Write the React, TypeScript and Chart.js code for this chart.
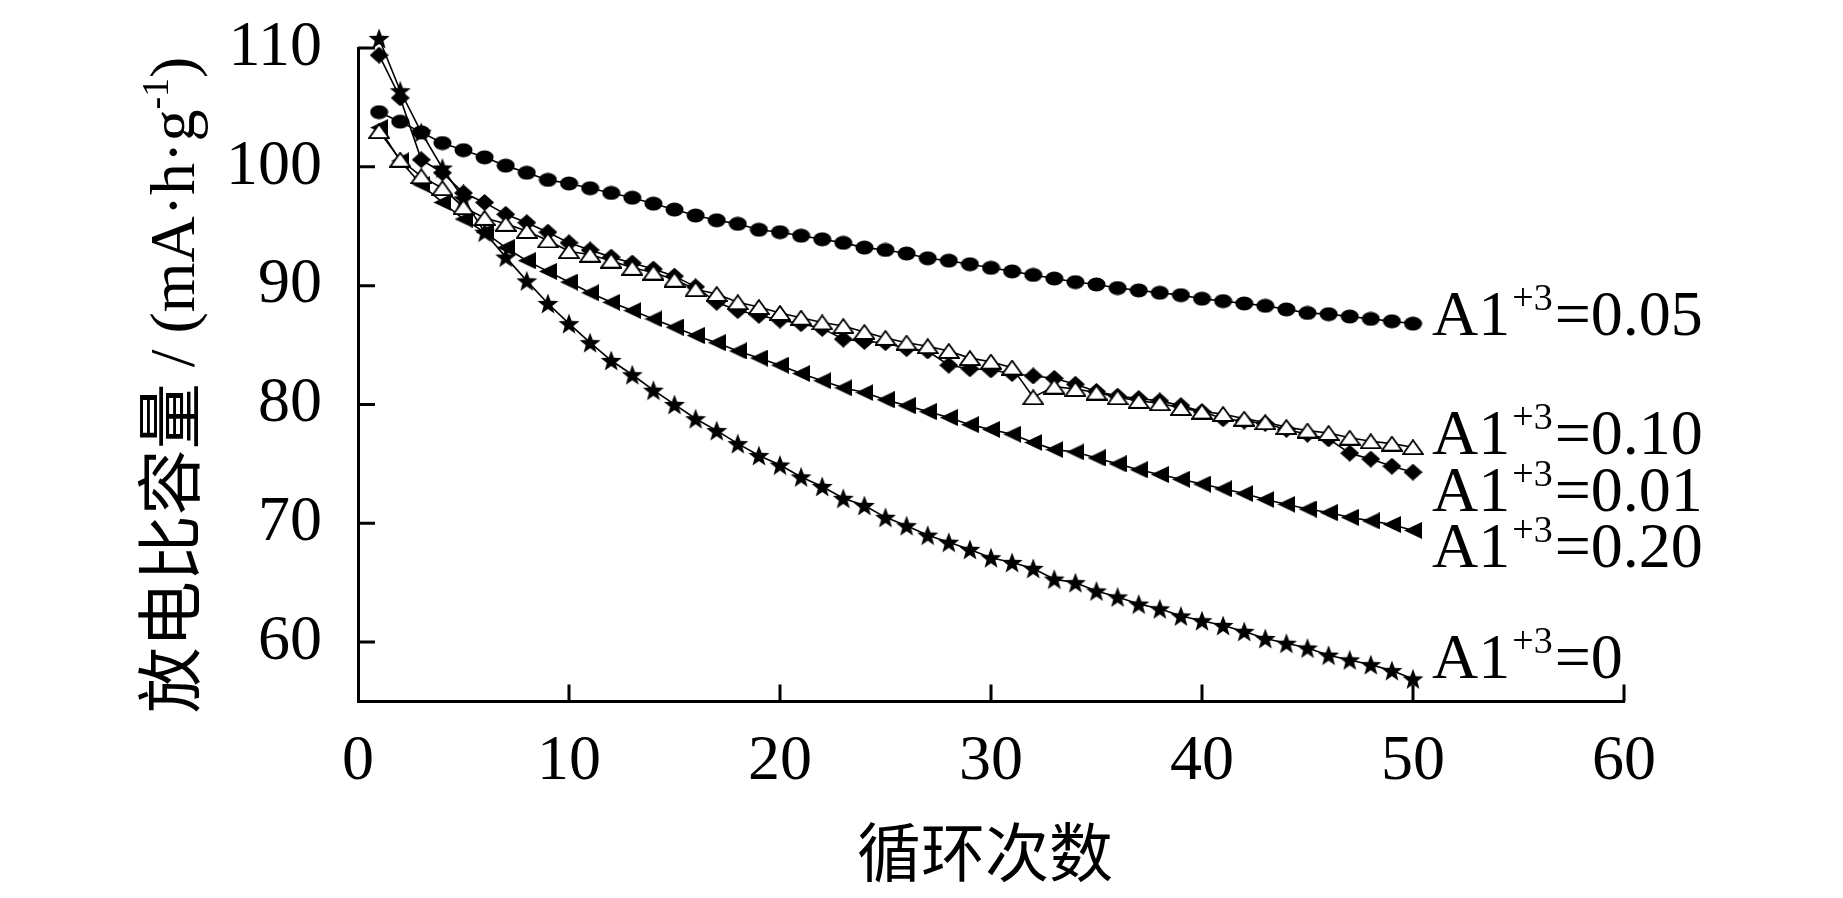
import { useEffect, useRef } from "react";
import { Chart, registerables, Plugin } from "chart.js";

Chart.register(...registerables);

// cycle numbers on the x axis
const cycles = [
  1, 2, 3, 4, 5, 6, 7, 8, 9, 10, 11, 12, 13, 14, 15, 16, 17, 18, 19, 20, 21, 22, 23, 24, 25,
  26, 27, 28, 29, 30, 31, 32, 33, 34, 35, 36, 37, 38, 39, 40, 41, 42, 43, 44, 45, 46, 47, 48, 49, 50,
];

// discharge capacity (mA·h·g-1) per Al3+ content
const al0 = [
  110.8, 106.4, 102.9, 99.9, 97.3, 94.5, 92.4, 90.4, 88.5, 86.8, 85.2, 83.7, 82.5, 81.2, 80.0, 78.8,
  77.8, 76.7, 75.7, 74.9, 73.9, 73.1, 72.1, 71.5, 70.5, 69.8, 69.0, 68.4, 67.8, 67.1, 66.7, 66.2, 65.3,
  65.0, 64.3, 63.8, 63.2, 62.8, 62.2, 61.8, 61.4, 60.9, 60.3, 59.9, 59.5, 58.9, 58.5, 58.1, 57.6, 56.9,
];
const al001 = [
  109.4, 105.8, 100.6, 99.5, 97.8, 97.0, 96.0, 95.3, 94.5, 93.6, 93.0, 92.4, 91.9, 91.4, 90.8, 89.9,
  88.6, 87.9, 87.5, 87.1, 86.8, 86.4, 85.5, 85.3, 85.2, 84.7, 84.5, 83.3, 83.0, 82.9, 82.6, 82.4, 82.2,
  81.7, 81.1, 80.7, 80.5, 80.3, 79.9, 79.4, 78.8, 78.6, 78.4, 77.9, 77.5, 77.1, 75.9, 75.4, 74.8, 74.3,
];
const al005 = [
  104.6, 103.8, 102.9, 102.0, 101.4, 100.8, 100.1, 99.5, 98.9, 98.6, 98.2, 97.8, 97.4, 96.9, 96.4, 95.9,
  95.5, 95.2, 94.7, 94.5, 94.2, 93.9, 93.6, 93.2, 93.0, 92.7, 92.3, 92.1, 91.8, 91.5, 91.2, 90.9, 90.6,
  90.3, 90.1, 89.8, 89.6, 89.4, 89.2, 88.9, 88.7, 88.5, 88.3, 88.0, 87.7, 87.6, 87.4, 87.2, 87.0, 86.8,
];
const al010 = [
  103.0, 100.6, 99.2, 98.2, 96.6, 95.7, 95.2, 94.6, 93.8, 92.9, 92.6, 92.1, 91.5, 91.1, 90.5, 89.7,
  89.3, 88.6, 88.2, 87.7, 87.3, 86.9, 86.6, 86.1, 85.6, 85.2, 84.9, 84.5, 83.9, 83.6, 83.1, 80.6, 81.5,
  81.3, 81.0, 80.6, 80.3, 80.1, 79.7, 79.4, 79.2, 78.8, 78.5, 78.1, 77.8, 77.6, 77.2, 76.9, 76.7, 76.4,
];
const al020 = [
  103.3, 100.5, 98.5, 97.0, 95.6, 94.5, 93.2, 92.1, 91.2, 90.3, 89.4, 88.6, 87.9, 87.2, 86.5, 85.8,
  85.2, 84.5, 83.9, 83.3, 82.6, 82.0, 81.4, 81.0, 80.4, 79.9, 79.4, 78.9, 78.3, 77.9, 77.5, 76.8, 76.2,
  76.0, 75.5, 75.0, 74.5, 74.1, 73.7, 73.3, 72.9, 72.5, 72.0, 71.6, 71.2, 70.9, 70.5, 70.2, 69.9, 69.4,
];

const xTicks = [0, 10, 20, 30, 40, 50, 60];
const yTicks = [60, 70, 80, 90, 100, 110];

// text placed to the right of the curves
const labelValues = ["0.05", "0.10", "0.01", "0.20", "0"];
const labelY = [85.86, 75.8, 71.05, 66.33, 56.94];
const labelX = 50.9;

const SERIF = '"Liberation Serif", "Times New Roman", serif';
const CJK = '"Noto Sans CJK SC", sans-serif';

function makeMarker(w: number, h: number, draw: (ctx: CanvasRenderingContext2D) => void) {
  const c = document.createElement("canvas");
  c.width = w;
  c.height = h;
  const ctx = c.getContext("2d")!;
  draw(ctx);
  return c;
}

function starPath(ctx: CanvasRenderingContext2D, cx: number, cy: number, ro: number, ri: number) {
  ctx.beginPath();
  for (let i = 0; i < 10; i++) {
    const r = i % 2 === 0 ? ro : ri;
    const a = -Math.PI / 2 + (i * Math.PI) / 5;
    const px = cx + r * Math.cos(a);
    const py = cy + r * Math.sin(a);
    if (i === 0) ctx.moveTo(px, py);
    else ctx.lineTo(px, py);
  }
  ctx.closePath();
}

const decorations: Plugin = {
  id: "decorations",
  afterDraw(chart) {
    const { ctx, chartArea } = chart;
    const xs = chart.scales.x;
    const ys = chart.scales.y;
    ctx.save();
    ctx.fillStyle = "#000";
    ctx.strokeStyle = "#000";

    // inward tick marks
    ctx.lineWidth = 3;
    ctx.beginPath();
    yTicks.forEach(v => {
      const py = ys.getPixelForValue(v);
      ctx.moveTo(chartArea.left, py);
      ctx.lineTo(chartArea.left + 17, py);
    });
    xTicks.slice(1).forEach(v => {
      const px = xs.getPixelForValue(v);
      ctx.moveTo(px, chartArea.bottom);
      ctx.lineTo(px, chartArea.bottom - 17);
    });
    ctx.stroke();

    // series labels
    ctx.textBaseline = "alphabetic";
    ctx.textAlign = "left";
    labelValues.forEach((val, i) => {
      let px = xs.getPixelForValue(labelX);
      const py = ys.getPixelForValue(labelY[i]);
      ctx.font = `64px ${SERIF}`;
      ctx.fillText("A1", px, py);
      px += ctx.measureText("A1").width + 2;
      ctx.font = `38px ${SERIF}`;
      ctx.fillText("+3", px, py - 25);
      px += ctx.measureText("+3").width + 2;
      ctx.font = `64px ${SERIF}`;
      ctx.fillText("=" + val, px, py);
    });

    // x axis title
    ctx.font = `64px ${CJK}`;
    ctx.textAlign = "center";
    ctx.textBaseline = "middle";
    ctx.fillText("循环次数", (chartArea.left + chartArea.right) / 2 - 6, 852);

    // y axis title, rotated, with superscript
    const parts: { t: string; font: string; dy: number }[] = [
      { t: "放电比容量", font: `66px ${CJK}`, dy: 0 },
      { t: " / (mA·h·g", font: `64px ${SERIF}`, dy: 0 },
      { t: "-1", font: `38px ${SERIF}`, dy: -26 },
      { t: ")", font: `64px ${SERIF}`, dy: 0 },
    ];
    let total = 0;
    const widths = parts.map(p => {
      ctx.font = p.font;
      const w = ctx.measureText(p.t).width;
      total += w;
      return w;
    });
    ctx.translate(194, 385);
    ctx.rotate(-Math.PI / 2);
    ctx.textAlign = "left";
    ctx.textBaseline = "alphabetic";
    let tx = -total / 2;
    parts.forEach((p, i) => {
      ctx.font = p.font;
      ctx.fillText(p.t, tx, p.dy);
      tx += widths[i];
    });
    ctx.restore();
  },
};

export default function App() {
  const canvasRef = useRef<HTMLCanvasElement>(null);
  const chartRef = useRef<Chart | null>(null);

  useEffect(() => {
    if (!canvasRef.current) return;
    document.body.style.margin = "0";

    if (chartRef.current) {
      chartRef.current.destroy();
    }

    const ellipse = makeMarker(19, 15, ctx => {
      ctx.fillStyle = "#000";
      ctx.beginPath();
      ctx.ellipse(9.5, 7.5, 9, 7, 0, 0, Math.PI * 2);
      ctx.fill();
    });
    const diamond = makeMarker(19, 17, ctx => {
      ctx.fillStyle = "#000";
      ctx.beginPath();
      ctx.moveTo(9.5, 0);
      ctx.lineTo(19, 8.5);
      ctx.lineTo(9.5, 17);
      ctx.lineTo(0, 8.5);
      ctx.closePath();
      ctx.fill();
    });
    const openTriangle = makeMarker(22, 16, ctx => {
      ctx.fillStyle = "#fff";
      ctx.strokeStyle = "#000";
      ctx.lineWidth = 1.8;
      ctx.beginPath();
      ctx.moveTo(11, 1);
      ctx.lineTo(21, 15);
      ctx.lineTo(1, 15);
      ctx.closePath();
      ctx.fill();
      ctx.stroke();
    });
    const leftTriangle = makeMarker(18, 17, ctx => {
      ctx.fillStyle = "#000";
      ctx.beginPath();
      ctx.moveTo(0, 8.5);
      ctx.lineTo(18, 0);
      ctx.lineTo(18, 17);
      ctx.closePath();
      ctx.fill();
    });
    const star = makeMarker(22, 21, ctx => {
      ctx.fillStyle = "#000";
      starPath(ctx, 11, 11.5, 11, 4.6);
      ctx.fill();
    });

    const series = [
      { label: "Al3+=0.10", values: al010, style: openTriangle, order: 0 },
      { label: "Al3+=0.01", values: al001, style: diamond, order: 1 },
      { label: "Al3+=0.05", values: al005, style: ellipse, order: 2 },
      { label: "Al3+=0.20", values: al020, style: leftTriangle, order: 3 },
      { label: "Al3+=0", values: al0, style: star, order: 4 },
    ];

    chartRef.current = new Chart(canvasRef.current, {
      type: "line",
      data: {
        datasets: series.map(s => ({
          label: s.label,
          data: cycles.map((c, i) => ({ x: c, y: s.values[i] })),
          borderColor: "#000",
          borderWidth: 1.6,
          backgroundColor: "#000",
          pointStyle: s.style,
          pointRadius: 9,
          tension: 0,
          clip: false,
          order: s.order,
        })),
      },
      options: {
        responsive: false,
        animation: false,
        layout: { padding: { left: 0, top: 48, right: 219, bottom: 0 } },
        plugins: {
          legend: { display: false },
          tooltip: { enabled: false },
        },
        scales: {
          x: {
            type: "linear",
            min: 0,
            max: 60,
            grid: { display: false },
            border: { display: true, color: "#000", width: 3 },
            ticks: {
              color: "#000",
              padding: 14,
              font: { family: SERIF, size: 64 },
            },
            afterBuildTicks: scale => {
              scale.ticks = xTicks.map(v => ({ value: v }));
            },
            afterFit: scale => {
              scale.height = 196.5;
              scale.paddingLeft = 0;
              scale.paddingRight = 0;
            },
          },
          y: {
            type: "linear",
            min: 55,
            max: 110,
            grid: { display: false },
            border: { display: true, color: "#000", width: 3 },
            ticks: {
              color: "#000",
              padding: 28,
              font: { family: SERIF, size: 64 },
            },
            afterBuildTicks: scale => {
              scale.ticks = yTicks.map(v => ({ value: v }));
            },
            afterFit: scale => {
              scale.width = 358;
              scale.paddingTop = 0;
              scale.paddingBottom = 0;
            },
          },
        },
      },
      plugins: [decorations],
    });

    return () => {
      if (chartRef.current) {
        chartRef.current.destroy();
        chartRef.current = null;
      }
    };
  }, []);

  return <canvas ref={canvasRef} width={1843} height={898} data-testid="chart-capacity" />;
}
